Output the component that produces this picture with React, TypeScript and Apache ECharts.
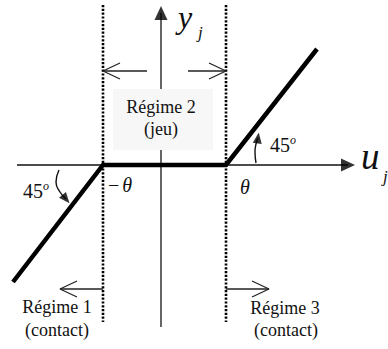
import React, { useEffect, useRef } from "react";
import * as echarts from "echarts";

// Coordinate frame: u (horizontal) and y (vertical), origin at the axes crossing.
const responseU = [-148, -58, 65, 156];
const responseY = [-117, 0, 0, 116];

const thresholdU = [-58, 65]; // −θ , θ
const thresholdSpanY = [160, -157];

const horizAxisU = [-144, 194]; // start, arrow tip
const vertAxisY = [-162, 159]; // start, arrow tip

const regimeArrowStartU = [-14, 27, -58, 65];
const regimeArrowTipU = [-58, 65, -101, 108];
const regimeArrowY = [94, 94, -124, -124];

const leftArcU = [-102, -105, -101, -95];
const leftArcY = [-5, -17, -27, -34];
const rightArcU = [95, 94, 95, 97];
const rightArcY = [2, 13, 21, 27];

const SERIF = '"Liberation Serif", "Times New Roman", serif';

export default function App() {
  const ref = useRef<HTMLDivElement>(null);

  useEffect(() => {
    if (!ref.current) return;
    const chart = echarts.init(ref.current, undefined, { renderer: "svg" });

    const headLen = 14;
    const series: any[] = [];

    // axes
    series.push({
      type: "line",
      data: [
        [horizAxisU[0], 0],
        [horizAxisU[1] - headLen / 2, 0],
      ],
      symbol: "none",
      lineStyle: { color: "#111", width: 1.3 },
      silent: true,
      z: 1,
    });
    series.push({
      type: "line",
      data: [
        [0, vertAxisY[0]],
        [0, vertAxisY[1] - headLen / 2],
      ],
      symbol: "none",
      lineStyle: { color: "#333", width: 1.5 },
      silent: true,
      z: 1,
    });
    series.push({
      type: "scatter",
      data: [
        { value: [horizAxisU[1] - headLen / 2, 0], symbolRotate: -90 },
        { value: [0, vertAxisY[1] - headLen / 2], symbolRotate: 0 },
      ],
      symbol: "triangle",
      symbolSize: [13, headLen],
      itemStyle: { color: "#000" },
      silent: true,
      z: 3,
    });

    // thresholds (dotted)
    thresholdU.forEach((u) => {
      series.push({
        type: "line",
        data: [
          [u, thresholdSpanY[0]],
          [u, thresholdSpanY[1]],
        ],
        symbol: "none",
        lineStyle: { color: "#000", width: 2.6, type: [2.2, 1.6] },
        silent: true,
        z: 2,
      });
    });

    // response curve
    series.push({
      type: "line",
      data: responseU.map((u, i) => [u, responseY[i]]),
      symbol: "none",
      lineStyle: { color: "#000", width: 4.5, cap: "butt", join: "miter" },
      silent: true,
      z: 4,
    });

    // regime arrows (open heads)
    regimeArrowTipU.forEach((tip, i) => {
      const start = regimeArrowStartU[i];
      const y = regimeArrowY[i];
      const dir = Math.sign(tip - start);
      series.push({
        type: "line",
        data: [
          [start, y],
          [tip, y],
        ],
        symbol: "none",
        lineStyle: { color: "#222", width: 1.3 },
        silent: true,
        z: 3,
      });
      series.push({
        type: "line",
        data: [
          [tip - dir * 17, y + 8],
          [tip, y],
          [tip - dir * 17, y - 8],
        ],
        symbol: "none",
        lineStyle: { color: "#222", width: 1.3 },
        silent: true,
        z: 3,
      });
    });

    // 45° angle arcs
    [
      [leftArcU, leftArcY],
      [rightArcU, rightArcY],
    ].forEach(([us, ys]) => {
      series.push({
        type: "line",
        smooth: true,
        data: us.map((u, i) => [u, ys[i]]),
        symbol: "none",
        lineStyle: { color: "#111", width: 1.4 },
        silent: true,
        z: 3,
      });
    });
    series.push({
      type: "scatter",
      data: [
        { value: [leftArcU[3], leftArcY[3]], symbolRotate: -140 },
        { value: [rightArcU[3], rightArcY[3]], symbolRotate: -8 },
      ],
      symbol: "triangle",
      symbolSize: [9, 11],
      itemStyle: { color: "#000" },
      silent: true,
      z: 3,
    });

    const txt = (x: number, y: number, text: string, extra: any = {}) => ({
      type: "text",
      x,
      y,
      z: 20,
      style: {
        text,
        fontFamily: SERIF,
        fontSize: 18,
        fill: "#111",
        align: "center",
        verticalAlign: "middle",
        ...extra,
      },
    });

    const degRich = {
      a: { fontFamily: SERIF, fontSize: 20, fill: "#111", lineHeight: 22 },
      b: { fontFamily: SERIF, fontSize: 12, fontStyle: "italic", fill: "#111", verticalAlign: "top", lineHeight: 22, padding: [0, 0, 10, 0] },
    };

    chart.setOption({
      animation: false,
      grid: { left: 0, top: 0, width: 388, height: 349, containLabel: false },
      xAxis: { type: "value", min: -161, max: 227, show: false },
      yAxis: { type: "value", min: -184, max: 165, show: false },
      series,
      graphic: [
        { type: "rect", z: 10, shape: { x: 113, y: 89, width: 100, height: 61 }, style: { fill: "#f7f7f7" } },
        txt(161, 107, "Régime 2"),
        txt(161, 129, "(jeu)"),
        txt(57, 307, "Régime 1"),
        txt(57, 330, "(contact)"),
        txt(285, 308, "Régime 3"),
        txt(286, 330, "(contact)"),
        txt(23, 191, "{a|45}{b|o}", { align: "left", rich: degRich }),
        txt(270, 145, "{a|45}{b|o}", { align: "left", rich: degRich }),
        txt(108, 185, "{m|−}{t|θ}", {
          align: "left",
          rich: {
            m: { fontFamily: SERIF, fontSize: 20, fill: "#111", padding: [0, 3, 0, 0] },
            t: { fontFamily: SERIF, fontSize: 20, fontStyle: "italic", fill: "#111" },
          },
        }),
        txt(245, 187, "θ", { fontSize: 20, fontStyle: "italic" }),
        txt(361, 156, "u", { fontSize: 37, fontStyle: "italic", align: "left" }),
        txt(383, 176, "j", { fontSize: 17, fontStyle: "italic", align: "left" }),
        txt(178, 17, "y", { fontSize: 32, fontStyle: "italic", align: "left" }),
        txt(198, 32, "j", { fontSize: 17, fontStyle: "italic", align: "left" }),
      ],
    });

    return () => chart.dispose();
  }, []);

  return (
    <div
      ref={ref}
      style={{ position: "fixed", left: 0, top: 0, width: 388, height: 349, background: "#fff" }}
    />
  );
}
